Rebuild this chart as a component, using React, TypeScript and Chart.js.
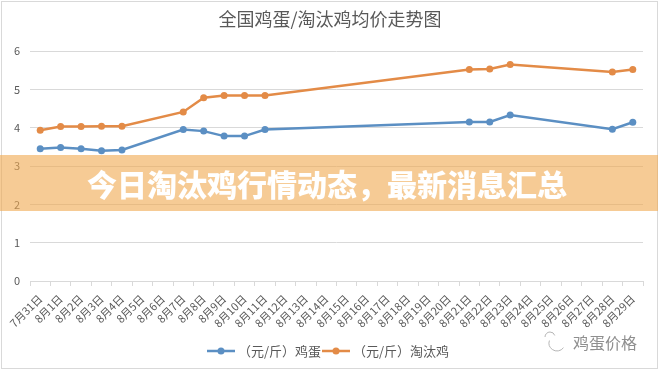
import React, { useEffect, useRef } from "react";
import { Chart, registerables } from "chart.js";

Chart.register(...registerables);

const categories = [
  "7月31日", "8月1日", "8月2日", "8月3日", "8月4日", "8月5日", "8月6日", "8月7日", "8月8日", "8月9日",
  "8月10日", "8月11日", "8月12日", "8月13日", "8月14日", "8月15日", "8月16日", "8月17日", "8月18日", "8月19日",
  "8月20日", "8月21日", "8月22日", "8月23日", "8月24日", "8月25日", "8月26日", "8月27日", "8月28日", "8月29日",
];

const eggPrices = [
  3.45, 3.48, 3.45, 3.40, 3.42, null, null, 3.95, 3.91, 3.78,
  3.78, 3.95, null, null, null, null, null, null, null, null,
  null, 4.15, 4.15, 4.33, null, null, null, null, 3.96, 4.14,
];

const henPrices = [
  3.93, 4.03, 4.03, 4.04, 4.04, null, null, 4.41, 4.78, 4.84,
  4.84, 4.84, null, null, null, null, null, null, null, null,
  null, 5.52, 5.53, 5.65, null, null, null, null, 5.45, 5.52,
];

const seriesNames = ["（元/斤）鸡蛋", "（元/斤）淘汰鸡"];
const seriesColors = ["#5b8fc3", "#e38b47"];
const titleText = "全国鸡蛋/淘汰鸡均价走势图";
const bannerText = "今日淘汰鸡行情动态，最新消息汇总";
const watermarkText = "鸡蛋价格";
const yTicks = [0, 1, 2, 3, 4, 5, 6];

const FONT = '"Noto Sans CJK SC", "Noto Sans", sans-serif';

const decorPlugin = {
  id: "decor",
  afterDraw(chart: any) {
    const ctx = chart.ctx as CanvasRenderingContext2D;
    ctx.save();
    // title
    ctx.fillStyle = "#595959";
    ctx.font = `18px ${FONT}`;
    ctx.textAlign = "center";
    ctx.textBaseline = "middle";
    ctx.fillText(titleText, 330, 19);

    // legend
    const legendY = 351;
    const items = [
      { x: 207, text: seriesNames[0], color: seriesColors[0] },
      { x: 322, text: seriesNames[1], color: seriesColors[1] },
    ];
    items.forEach((it) => {
      ctx.strokeStyle = it.color;
      ctx.lineWidth = 2.5;
      ctx.beginPath();
      ctx.moveTo(it.x, legendY);
      ctx.lineTo(it.x + 28, legendY);
      ctx.stroke();
      ctx.fillStyle = it.color;
      ctx.beginPath();
      ctx.arc(it.x + 14, legendY, 3.5, 0, Math.PI * 2);
      ctx.fill();
      ctx.fillStyle = "#595959";
      ctx.font = `13px ${FONT}`;
      ctx.textAlign = "left";
      ctx.fillText(it.text, it.x + 31, legendY);
    });

    // watermark
    ctx.fillStyle = "#8f8f8f";
    ctx.font = `16px ${FONT}`;
    ctx.textAlign = "left";
    ctx.fillText(watermarkText, 573, 343);
    ctx.strokeStyle = "#b5b5b5";
    ctx.lineWidth = 1;
    ctx.beginPath();
    ctx.arc(557, 343, 8, Math.PI * 0.2, Math.PI * 1.1);
    ctx.stroke();
    ctx.beginPath();
    ctx.arc(550, 337, 5, Math.PI * 1.0, Math.PI * 1.9);
    ctx.stroke();
    ctx.restore();
  },
};

export default function App() {
  const canvasRef = useRef<HTMLCanvasElement | null>(null);

  useEffect(() => {
    if (!canvasRef.current) return;
    const chart = new Chart(canvasRef.current, {
      type: "line",
      data: {
        labels: categories,
        datasets: [
          {
            label: seriesNames[0],
            data: eggPrices,
            borderColor: seriesColors[0],
            backgroundColor: seriesColors[0],
            borderWidth: 2.5,
            pointRadius: 3.5,
            pointBorderWidth: 0,
            spanGaps: true,
            tension: 0,
          },
          {
            label: seriesNames[1],
            data: henPrices,
            borderColor: seriesColors[1],
            backgroundColor: seriesColors[1],
            borderWidth: 2.5,
            pointRadius: 3.5,
            pointBorderWidth: 0,
            spanGaps: true,
            tension: 0,
          },
        ],
      },
      options: {
        responsive: false,
        animation: false,
        layout: { padding: { top: 51, right: 15, left: 0, bottom: 0 } },
        plugins: {
          legend: { display: false },
          title: { display: false },
          tooltip: { enabled: false },
        },
        scales: {
          x: {
            type: "category",
            offset: true,
            afterFit: (scale: any) => {
              scale.height = 90;
            },
            grid: {
              drawOnChartArea: false,
              drawTicks: true,
              tickLength: 5,
              offset: true,
              color: "#d9d9d9",
            },
            border: { display: true, color: "#d9d9d9" },
            ticks: {
              autoSkip: false,
              maxRotation: 45,
              minRotation: 45,
              padding: 6,
              color: "#595959",
              font: { size: 11, family: FONT },
            },
          },
          y: {
            min: 0,
            max: 6,
            afterFit: (scale: any) => {
              scale.width = 30;
            },
            afterBuildTicks: (scale: any) => {
              scale.ticks = yTicks.map((v) => ({ value: v }));
            },
            grid: { color: "#d9d9d9", drawTicks: false },
            border: { display: false },
            ticks: {
              padding: 10,
              color: "#595959",
              font: { size: 11, family: FONT },
            },
          },
        },
      },
      plugins: [decorPlugin],
    });
    return () => chart.destroy();
  }, []);

  return (
    <div style={{ position: "absolute", left: 0, top: 0, width: 658, height: 371, background: "#fff", overflow: "hidden" }}>
      <canvas ref={canvasRef} width={658} height={371} style={{ position: "absolute", left: 0, top: 0, width: 658, height: 371 }} />
      <div
        style={{
          position: "absolute",
          left: 1,
          top: 1,
          width: 655,
          height: 366,
          border: "1px solid #d9d9d9",
          pointerEvents: "none",
        }}
      />
      <div
        style={{
          position: "absolute",
          left: 0,
          top: 155,
          width: 658,
          height: 56,
          background: "rgba(240,168,78,0.6)",
          display: "flex",
          alignItems: "center",
          justifyContent: "center",
          color: "#ffffff",
          fontFamily: FONT,
          fontWeight: 900,
          fontSize: 30,
          lineHeight: "56px",
          whiteSpace: "nowrap",
          paddingRight: 4,
          boxSizing: "border-box",
        }}
      >
        {bannerText}
      </div>
    </div>
  );
}
